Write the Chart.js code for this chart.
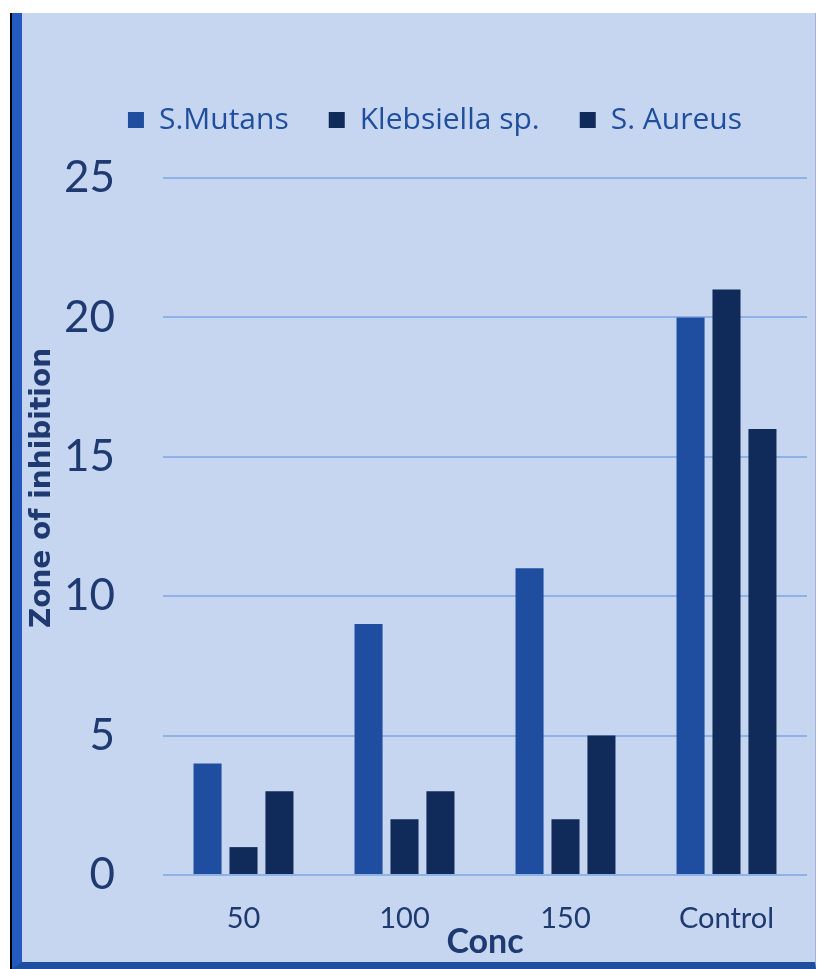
<!DOCTYPE html>
<html>
<head>
<meta charset="utf-8">
<script src="https://cdn.jsdelivr.net/npm/chart.js@4.4.1/dist/chart.umd.min.js"></script>
<style>
  html, body { margin: 0; padding: 0; background: #fff; }
  #frame {
    position: absolute; left: 10px; top: 13px; width: 806px; height: 956px;
    border-left: 2px solid #000; box-sizing: border-box;
  }
  #panel {
    position: absolute; left: 0; top: 0; right: 0; bottom: 0;
    background: #c6d6f0; border-left: 10px solid #2459bf;
    border-bottom: 7px solid #1f4e9f; border-right: 1px solid #9fb3d6;
  }
  #wrap { position: absolute; left: 23px; top: 13px; width: 793px; height: 949px; }
</style>
</head>
<body>
<div id="frame"><div id="panel"></div></div>
<div id="wrap"><canvas id="chart"></canvas></div>
<script>
const categories = ['50', '100', '150', 'Control'];
const sMutans = [4, 9, 11, 20];
const klebsiella = [1, 2, 2, 21];
const sAureus = [3, 3, 5, 16];
const yTicks = [0, 5, 10, 15, 20, 25];
const yTitle = 'Zone of inhibition';

const navy = '#1f3a70';
const font = "Lato, 'Open Sans', sans-serif";

// extra room under the legend, and the y title drawn a bit above centre like the original
const chartTweaks = {
  id: 'chartTweaks',
  beforeInit(chart) {
    const legend = chart.legend;
    const fit = legend.fit;
    legend.fit = function () {
      fit.call(this);
      this.height += 33;
    };
  },
  afterDraw(chart) {
    const c = chart.ctx;
    c.save();
    c.translate(20, 475);
    c.rotate(-Math.PI / 2);
    c.fillStyle = navy;
    c.font = "bold 28px 'DejaVu Sans', sans-serif";
    c.textAlign = 'center';
    c.textBaseline = 'middle';
    c.fillText(yTitle, 0, 0);
    c.restore();
  }
};

const ctx = document.getElementById('chart').getContext('2d');

new Chart(ctx, {
  type: 'bar',
  data: {
    labels: categories,
    datasets: [
      { label: 'S.Mutans', data: sMutans, backgroundColor: '#1f4ea1' },
      { label: 'Klebsiella sp.', data: klebsiella, backgroundColor: '#102a5a' },
      { label: 'S. Aureus', data: sAureus, backgroundColor: '#102a5a' }
    ]
  },
  plugins: [chartTweaks],
  options: {
    responsive: true,
    maintainAspectRatio: false,
    animation: false,
    categoryPercentage: 0.67,
    barPercentage: 0.78,
    layout: { padding: { left: 40, right: 9, top: 52, bottom: 0 } },
    plugins: {
      tooltip: { enabled: false },
      legend: {
        position: 'top',
        labels: {
          boxWidth: 16,
          boxHeight: 16,
          padding: 40,
          color: '#1f4e9f',
          font: { family: "'Open Sans', sans-serif", size: 30 }
        }
      }
    },
    scales: {
      x: {
        afterFit: function (scale) { scale.height = 87; },
        grid: { display: false },
        border: { display: false },
        ticks: { color: navy, padding: 18, font: { family: font, size: 29 } },
        title: {
          display: true, text: 'Conc', color: navy,
          padding: { top: 0, bottom: 0 },
          font: { family: font, size: 34, weight: 'bold' }
        }
      },
      y: {
        min: 0,
        max: 25,
        afterFit: function (scale) { scale.width = 100; },
        afterBuildTicks: function (scale) {
          scale.ticks = yTicks.map(v => ({ value: v }));
        },
        border: { display: false },
        grid: { color: '#8eb1e6', lineWidth: 2, drawTicks: false },
        ticks: { color: navy, padding: 48, font: { family: font, size: 44 } }
      }
    }
  }
});
</script>
</body>
</html>
